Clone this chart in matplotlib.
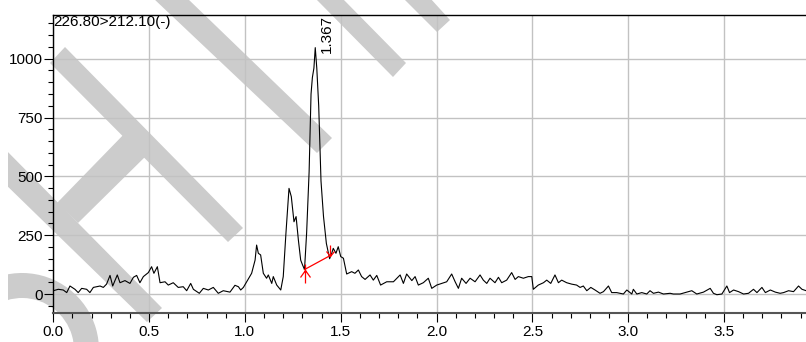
import matplotlib
matplotlib.use("Agg")
import matplotlib.pyplot as plt
from matplotlib.patches import Polygon, Wedge, Rectangle
from matplotlib.path import Path
from matplotlib.transforms import Affine2D
from matplotlib.ticker import MultipleLocator, FormatStrFormatter

plt.rcParams["font.family"] = ["Liberation Sans", "DejaVu Sans"]

# ---- chromatogram trace (retention time in min, intensity) ----
rt = [
    0.000, 0.026, 0.052, 0.070, 0.087, 0.113, 0.130, 0.148, 0.174, 0.191,
    0.209, 0.244, 0.261, 0.278, 0.296, 0.310, 0.334, 0.348, 0.374, 0.400,
    0.418, 0.435, 0.452, 0.470, 0.496, 0.513, 0.525, 0.543, 0.557, 0.583,
    0.600, 0.626, 0.652, 0.678, 0.696, 0.717, 0.731, 0.762, 0.783, 0.809,
    0.835, 0.861, 0.887, 0.922, 0.948, 0.966, 0.978, 0.992, 1.013, 1.035,
    1.053, 1.061, 1.070, 1.082, 1.096, 1.113, 1.122, 1.140, 1.148, 1.166,
    1.187, 1.200, 1.214, 1.230, 1.242, 1.256, 1.267, 1.279, 1.291, 1.300,
    1.311, 1.322, 1.335, 1.345, 1.352, 1.360, 1.367, 1.375, 1.385, 1.397,
    1.410, 1.425, 1.442, 1.453, 1.461, 1.475, 1.487, 1.500, 1.514, 1.531,
    1.557, 1.574, 1.592, 1.609, 1.627, 1.653, 1.670, 1.688, 1.708, 1.740,
    1.775, 1.810, 1.827, 1.844, 1.871, 1.888, 1.905, 1.931, 1.957, 1.975,
    2.001, 2.027, 2.053, 2.079, 2.097, 2.114, 2.131, 2.154, 2.175, 2.201,
    2.227, 2.244, 2.262, 2.279, 2.305, 2.323, 2.340, 2.366, 2.392, 2.410,
    2.427, 2.453, 2.479, 2.497, 2.505, 2.531, 2.558, 2.575, 2.596, 2.618,
    2.636, 2.653, 2.679, 2.705, 2.731, 2.749, 2.766, 2.784, 2.805, 2.827,
    2.853, 2.871, 2.897, 2.914, 2.940, 2.975, 2.993, 3.019, 3.027, 3.045,
    3.071, 3.097, 3.114, 3.132, 3.158, 3.184, 3.219, 3.236, 3.271, 3.297,
    3.332, 3.358, 3.393, 3.428, 3.445, 3.463, 3.489, 3.515, 3.529, 3.550,
    3.576, 3.602, 3.628, 3.654, 3.672, 3.698, 3.716, 3.742, 3.768, 3.793,
    3.811, 3.837, 3.863, 3.889, 3.907, 3.929,
]
intensity = [
    14, 20, 17, 6, 34, 20, 6, 24, 20, 6,
    28, 34, 28, 42, 79, 34, 81, 48, 57, 45,
    71, 79, 48, 74, 91, 116, 88, 116, 48, 52,
    38, 48, 28, 31, 14, 45, 20, 3, 24, 17,
    28, 3, 14, 8, 37, 31, 17, 28, 57, 88,
    144, 208, 173, 166, 88, 67, 81, 45, 74, 38,
    17, 74, 258, 449, 414, 307, 329, 229, 144, 125,
    104, 260, 520, 850, 920, 960, 1047, 960, 800, 480,
    330, 215, 150, 173, 194, 173, 201, 159, 152, 85,
    95, 88, 102, 74, 62, 81, 59, 79, 38, 52,
    52, 81, 45, 85, 57, 74, 38, 48, 67, 24,
    38, 45, 52, 85, 52, 24, 67, 45, 67, 52,
    81, 59, 45, 67, 48, 71, 48, 59, 91, 62,
    74, 67, 74, 74, 20, 38, 48, 59, 45, 81,
    48, 59, 48, 42, 38, 28, 34, 14, 28, 17,
    3, 10, 34, 6, 6, 0, 17, 0, 20, 0,
    6, 0, 14, 3, 8, 0, 3, 0, 0, 6,
    14, 0, 8, 24, 3, -3, 0, 34, 6, 17,
    10, 0, 3, 20, 6, 28, 6, 17, 8, 3,
    6, 14, 10, 34, 20, 14,
]

trace_label = "226.80>212.10(-)"
peak_rt = 1.367
peak_height = 1047
baseline_rt = [1.311, 1.442]
baseline_int = [104, 162]

x_ticks = [0.0, 0.5, 1.0, 1.5, 2.0, 2.5, 3.0, 3.5]
y_ticks = [0, 250, 500, 750, 1000]

# ---- figure layout (pixel based) ----
W, H, DPI = 806, 342, 100
fig = plt.figure(figsize=(W / DPI, H / DPI), dpi=DPI, facecolor="white")
left_px, right_px, top_px, bottom_px = 53.3, 806.0, 14.7, 313.3
ax = fig.add_axes([left_px / W, (H - bottom_px) / H,
                   (right_px - left_px) / W, (bottom_px - top_px) / H])
ax.set_facecolor("none")

# ---- light grey "watermark" strokes behind the plot ----
# coordinates in pixels measured from the top-left corner
px = Affine2D().scale(1, -1).translate(0, H).scale(1 / DPI) + fig.dpi_scale_trans
wm_color = "#cccccc"
clip = Rectangle((8, 0), W, H, transform=px, visible=False)
fig.add_artist(clip)
strokes = [
    [(153, -2), (187, -2), (332, 138), (317, 153)],
    [(315, -2), (342, -2), (406, 63), (393, 77)],
    [(403, -2), (430, -2), (450, 20), (437, 32)],
    [(50, 63), (65, 47), (243, 228), (228, 242)],
    [(128, 130), (150, 152), (78, 223), (57, 203)],
    [(0, 144), (162, 308), (147, 322), (0, 179)],
]
for pts in strokes:
    p = Polygon(pts, closed=True, transform=px, facecolor=wm_color,
                edgecolor="none", zorder=-5)
    fig.add_artist(p)
    p.set_clip_path(clip)
ring = Wedge((22, 350), 77, -125, 20, width=25, transform=px,
             facecolor=wm_color, edgecolor="none", zorder=-5)
fig.add_artist(ring)
ring.set_clip_path(clip)

# ---- trace ----
ax.plot(rt, intensity, color="black", lw=0.8, zorder=3)

# integration baseline with start / end markers
start_marker = Path([(0, 6), (0, -13), (-5, -7), (0, 0), (5, -7)],
                    [Path.MOVETO, Path.LINETO, Path.MOVETO, Path.LINETO, Path.LINETO])
end_marker = Path([(0, 11), (0, 0), (-4, 5), (0, 0), (4, 5)],
                  [Path.MOVETO, Path.LINETO, Path.MOVETO, Path.LINETO, Path.LINETO])
ax.plot(baseline_rt, baseline_int, color="red", lw=0.9, zorder=4)
ax.plot(baseline_rt[0], baseline_int[0], marker=start_marker, ms=2 * 13 * 0.72,
        mec="red", mew=0.9, mfc="none", ls="none", zorder=4)
ax.plot(baseline_rt[1], baseline_int[1], marker=end_marker, ms=2 * 11 * 0.72,
        mec="red", mew=0.9, mfc="none", ls="none", zorder=4)

# peak apex label
ax.annotate(f"{peak_rt:.3f}", xy=(peak_rt, peak_height), xytext=(3, -4),
            textcoords="offset points", rotation=90, ha="left", va="bottom",
            fontsize=11, color="black")

# trace name in the upper-left corner
ax.annotate(trace_label, xy=(0, 1), xycoords="axes fraction", xytext=(0.3, 0),
            textcoords="offset points", ha="left", va="top", fontsize=11)

# ---- axes styling ----
ax.set_xlim(0, 3.928)
ax.set_ylim(-82, 1187)
ax.set_xticks(x_ticks)
ax.set_yticks(y_ticks)
ax.xaxis.set_major_formatter(FormatStrFormatter("%.1f"))
ax.xaxis.set_minor_locator(MultipleLocator(0.1))
ax.yaxis.set_minor_locator(MultipleLocator(50))
ax.grid(True, which="major", color="#c2c2c2", lw=1.0, zorder=1)
ax.set_axisbelow(True)

ax.tick_params(axis="both", which="major", direction="out", length=6.5,
               width=0.8, labelsize=11, colors="black")
ax.tick_params(axis="both", which="minor", direction="out", length=3.5,
               width=0.8, colors="black")
ax.tick_params(axis="y", which="major", pad=1)
ax.tick_params(axis="x", which="major", pad=2)

ax.spines["right"].set_visible(False)
ax.spines["top"].set_color("black")
ax.spines["top"].set_linewidth(1.0)
ax.spines["left"].set_color("black")
ax.spines["left"].set_linewidth(1.0)
ax.spines["bottom"].set_color("#555555")
ax.spines["bottom"].set_linewidth(1.5)

fig.savefig("out.png", dpi=DPI, facecolor="white")
